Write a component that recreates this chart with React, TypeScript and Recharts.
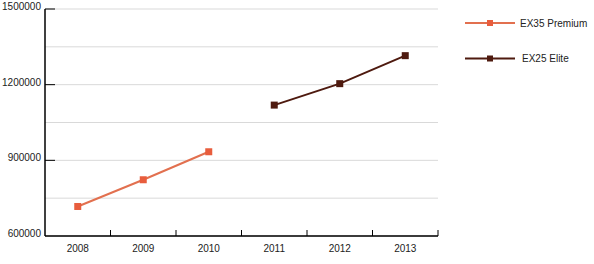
import { LineChart, Line, XAxis, YAxis, CartesianGrid, Legend } from 'recharts';

// ── Data ─────────────────────────────────────────────────────────────────────

const YEARS = ['2008', '2009', '2010', '2011', '2012', '2013'];
const EX35_PREMIUM = [717000, 823000, 934000, null, null, null];
const EX25_ELITE = [null, null, null, 1119000, 1204000, 1315000];
const Y_TICKS = [600000, 750000, 900000, 1050000, 1200000, 1350000, 1500000];
const Y_LABELED = [600000, 900000, 1200000, 1500000];

const SERIES = [
  { key: 'ex35', label: 'EX35 Premium', line: '#e2704f', marker: '#e85d3d' },
  { key: 'ex25', label: 'EX25 Elite', line: '#4e1a0f', marker: '#4e1a0f' },
];

const data = YEARS.map((y, i) => ({ year: y, ex35: EX35_PREMIUM[i], ex25: EX25_ELITE[i] }));

const FONT = '"Liberation Sans", Arial, sans-serif';
const BAND = (438 - 45) / YEARS.length;

// ── Custom ticks ─────────────────────────────────────────────────────────────

const YTick = ({ x, y, payload }: any) => {
  if (!Y_LABELED.includes(payload.value)) return null;
  return (
    <g>
      {payload.value !== 600000 && <line x1={x} x2={x + 10} y1={y} y2={y} stroke="#000" strokeWidth={1} />}
      <text x={x - 4} y={y + 1} textAnchor="end" fontSize={10} fontFamily={FONT} fill="#222">
        {payload.value}
      </text>
    </g>
  );
};

const XTick = ({ x, y, payload }: any) => (
  <g>
    <line x1={x + BAND / 2} x2={x + BAND / 2} y1={y} y2={y - 6} stroke="#000" strokeWidth={1} />
    <text x={x} y={y + 16} textAnchor="middle" fontSize={10} fontFamily={FONT} fill="#222">
      {payload.value}
    </text>
  </g>
);

const Square = ({ cx, cy, fill }: any) =>
  cx == null || cy == null ? null : <rect x={cx - 3.5} y={cy - 3.5} width={7} height={7} fill={fill} />;

const renderLegend = () => (
  <svg width={134} height={60}>
    {SERIES.map((s, i) => {
      const y = 9 + i * 35.5;
      return (
        <g key={s.key}>
          <line x1={5} x2={55} y1={y} y2={y} stroke={s.line} strokeWidth={2} />
          <rect x={27} y={y - 3} width={6} height={6} fill={s.marker} />
          <text x={60 + i * 2} y={y + 3.5} fontSize={10} fontFamily={FONT} fill="#222">
            {s.label}
          </text>
        </g>
      );
    })}
  </svg>
);

// ── Component ────────────────────────────────────────────────────────────────

export default function App() {
  return (
    <div style={{ position: 'fixed', left: 0, top: 0, width: 594, height: 264, background: '#fff' }}>
      <LineChart width={594} height={264} data={data} margin={{ top: 9, right: 156, left: 0, bottom: 0 }}>
        <CartesianGrid horizontal vertical={false} stroke="#d9d9d9" />
        <XAxis
          dataKey="year"
          height={28}
          padding={{ left: BAND / 2, right: BAND / 2 }}
          tick={<XTick />}
          tickLine={false}
          tickSize={0}
          tickMargin={0}
          axisLine={{ stroke: '#000', strokeWidth: 1.5 }}
          interval={0}
        />
        <YAxis
          width={45}
          domain={[600000, 1500000]}
          ticks={Y_TICKS}
          tick={<YTick />}
          tickLine={false}
          tickSize={0}
          tickMargin={0}
          axisLine={{ stroke: '#000', strokeWidth: 1.5 }}
          interval={0}
        />
        <Legend
          layout="vertical"
          verticalAlign="middle"
          align="center"
          content={renderLegend}
          wrapperStyle={{ position: 'absolute', left: 460, top: 14, width: 134, height: 60 }}
        />
        {SERIES.map((s) => (
          <Line
            key={s.key}
            dataKey={s.key}
            name={s.label}
            stroke={s.line}
            strokeWidth={2}
            dot={<Square fill={s.marker} />}
            activeDot={false}
            connectNulls={false}
            isAnimationActive={false}
          />
        ))}
      </LineChart>
    </div>
  );
}
